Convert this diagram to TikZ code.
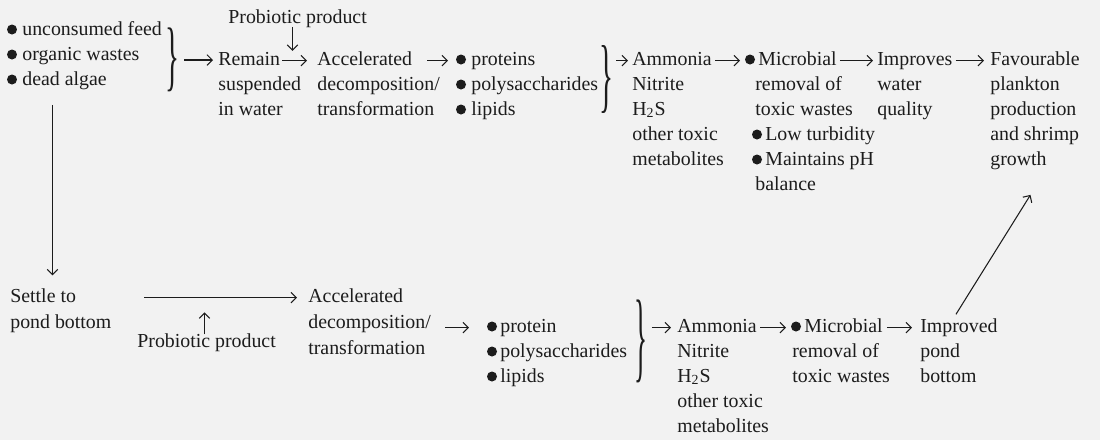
\documentclass[tikz,border=0pt]{standalone}
\usepackage{fontspec}
\setmainfont{Liberation Serif}
\usetikzlibrary{arrows.meta}
\newcommand\fs{\fontsize{11.3}{13.5}\selectfont}
\newcommand\rbr[2]{\resizebox*{#1}{#2}{\}}}
\definecolor{ink}{HTML}{1C1C1C}
\definecolor{paper}{HTML}{F2F2F2}
\begin{document}
\begin{tikzpicture}[x=0.02cm,y=-0.02cm,
  t/.style={inner sep=0pt, anchor=base west, font=\fs, text=ink, text height=0.7em, text depth=0.2em},
  brc/.style={inner sep=0pt, font=\fs, text=ink},
  dotb/.style={fill=ink},
  arr/.style={draw=ink, line width=0.6pt, -{Straight Barb[length=3pt,width=6pt]}}]
\fill[paper] (0,0) rectangle (1100,440);
\useasboundingbox (0,0) rectangle (1100,440);

% ---------- top row ----------
\node[t] (feed1) at (22,35) {unconsumed feed};
\node[t] (feed2) at (22,60) {organic wastes};
\node[t] (feed3) at (22,85) {dead algae};
\node[brc] (br1) at (172,60) {\rbr{0.28cm}{1.28cm}};

\node[t] (probA) at (228,23) {Probiotic product};

\node[t] (remainA) at (218,65) {Remain};
\node[t] (remainB) at (218,90) {suspended};
\node[t] (remainC) at (218,115) {in water};

\node[t] (accA) at (317,65) {Accelerated};
\node[t] (accA2) at (317,90) {decomposition/};
\node[t] (accA3) at (317,115) {transformation};

\node[t] (protA) at (471,65) {proteins};
\node[t] (protA2) at (471,90) {polysaccharides};
\node[t] (protA3) at (471,115) {lipids};
\node[brc] (br2) at (606,79) {\rbr{0.28cm}{1.36cm}};

\node[t] (ammA) at (632,65) {Ammonia};
\node[t] (ammA2) at (632,90) {Nitrite};
\node[t] (ammA3) at (632,115) {H\textsubscript{2}S};
\node[t] (ammA4) at (632,140) {other toxic};
\node[t] (ammA5) at (632,165) {metabolites};

\node[t] (micA) at (758,65) {Microbial};
\node[t] (micA2) at (755,90) {removal of};
\node[t] (micA3) at (755,115) {toxic wastes};
\node[t] (micA4) at (765,140) {Low turbidity};
\node[t] (micA5) at (765,165) {Maintains pH};
\node[t] (micA6) at (755,190) {balance};

\node[t] (impA) at (877,65) {Improves};
\node[t] (impA2) at (877,90) {water};
\node[t] (impA3) at (877,115) {quality};

\node[t] (favA) at (990,65) {Favourable};
\node[t] (favB) at (990,90) {plankton};
\node[t] (favC) at (990,115) {production};
\node[t] (favD) at (990,140) {and shrimp};
\node[t] (favE) at (990,165) {growth};

% ---------- bottom row ----------
\node[t] (settleA) at (10,302) {Settle to};
\node[t] (settleB) at (10,328) {pond bottom};
\node[t] (probB) at (137,347) {Probiotic product};

\node[t] (accB) at (308,302) {Accelerated};
\node[t] (accB2) at (308,328) {decomposition/};
\node[t] (accB3) at (308,354) {transformation};

\node[t] (protB) at (500,332) {protein};
\node[t] (protB2) at (500,357) {polysaccharides};
\node[t] (protB3) at (500,382) {lipids};
\node[brc] (br3) at (641,341) {\rbr{0.26cm}{1.66cm}};

\node[t] (ammB) at (677,332) {Ammonia};
\node[t] (ammB2) at (677,357) {Nitrite};
\node[t] (ammB3) at (677,382) {H\textsubscript{2}S};
\node[t] (ammB4) at (677,407) {other toxic};
\node[t] (ammB5) at (677,432) {metabolites};

\node[t] (micB) at (804,332) {Microbial};
\node[t] (micB2) at (792,357) {removal of};
\node[t] (micB3) at (792,382) {toxic wastes};

\node[t] (impB) at (920,332) {Improved};
\node[t] (impB2) at (920,357) {pond};
\node[t] (impB3) at (920,382) {bottom};

% ---------- list bullets ----------
\foreach \n in {feed1,feed2,feed3,protA,protA2,protA3}
  \fill[dotb] ([shift={(-10,-5.5)}]\n.base west) circle[radius=0.1cm];
\foreach \n in {micA,micA4,micA5,protB,protB2,protB3,micB}
  \fill[dotb] ([shift={(-8,-5.5)}]\n.base west) circle[radius=0.1cm];

% ---------- connectors: top ----------
\draw[arr, shorten <=0.1cm, shorten >=0.1cm] (br1.east) -- (br1.east -| remainA.west);
\draw[arr] ([shift={(-5,0)}]probA.south) -- ++(0,24);
\draw[arr, shorten <=0.04cm, shorten >=0.2cm] (remainA.east) -- (accA.west);
\draw[arr, shorten <=0.3cm, shorten >=0.46cm] (accA.east) -- (protA.west);
\draw[arr, shorten <=0.06cm, shorten >=0.08cm] (br2.east |- ammA.west) -- (ammA.west);
\draw[arr, shorten <=0.06cm, shorten >=0.36cm] (ammA.east) -- (micA.west);
\draw[arr, shorten <=0.06cm, shorten >=0.08cm] (micA.east) -- (impA.west);
\draw[arr, shorten <=0.06cm, shorten >=0.12cm] (impA.east) -- (favA.west);

% ---------- connectors: left / bottom ----------
\draw[arr, shorten >=0.28cm] ([shift={(-12,16)}]feed3.south) coordinate (v0) -- (v0 |- settleA.north);
\draw[arr, shorten <=1.36cm, shorten >=0.22cm] (settleA.east) -- (accB.west);
\draw[arr] ([shift={(-2,0)}]probB.north) -- ++(0,-22);
\draw[arr, shorten <=0.28cm, shorten >=0.62cm] (protB.west -| accB2.east) -- (protB.west);
\draw[arr, shorten <=0.08cm, shorten >=0.12cm] (br3.east |- ammB.west) -- (ammB.west);
\draw[arr, shorten <=0.06cm, shorten >=0.36cm] (ammB.east) -- (micB.west);
\draw[arr, shorten <=0.08cm, shorten >=0.16cm] (micB.east) -- (impB.west);
\draw[arr] ([shift={(-3,-5)}]impB.north) -- ([shift={(12,26)}]favE.south);
\end{tikzpicture}
\end{document}
